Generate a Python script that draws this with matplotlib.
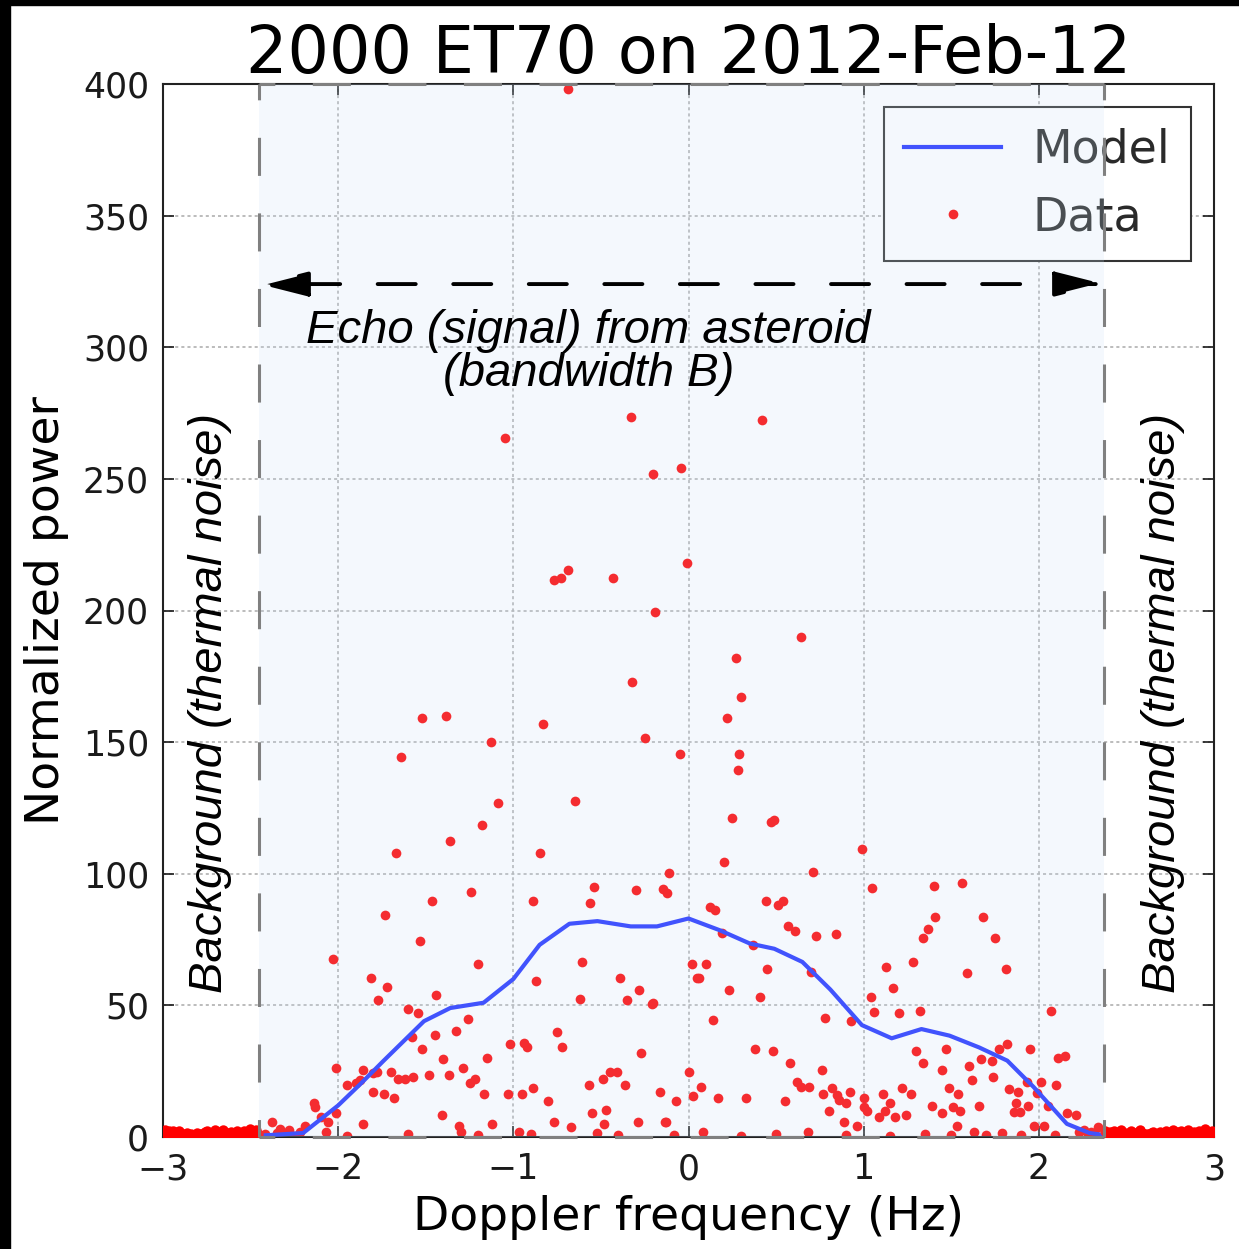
import numpy as np
import matplotlib
matplotlib.use('Agg')
import matplotlib.pyplot as plt
from matplotlib.patches import Rectangle

plt.rcParams['lines.scale_dashes'] = False

TITLE = '2000 ET70 on 2012-Feb-12'
X_LABEL = 'Doppler frequency (Hz)'
Y_LABEL = 'Normalized power'
X_TICKS = [-3, -2, -1, 0, 1, 2, 3]
Y_TICKS = [0, 50, 100, 150, 200, 250, 300, 350, 400]

ECHO_LEFT = -2.45     # edges of echo bandwidth (Hz)
ECHO_RIGHT = 2.37
ARROW_Y = 324

# model spectrum
MODEL_X = [-3.0, -2.45, -2.2, -2.0, -1.875, -1.74, -1.51, -1.36, -1.17, -1.0,
           -0.85, -0.68, -0.52, -0.33, -0.18, 0.0, 0.18, 0.35, 0.49, 0.65,
           0.81, 0.99, 1.16, 1.33, 1.49, 1.66, 1.82, 1.97, 2.16, 2.29, 2.4, 3.0]
MODEL_Y = [0, 0.5, 1.5, 12, 20, 29, 44, 49, 51, 60,
           73, 81, 82, 80, 80, 83, 78.5, 73.5, 71.5, 66.5,
           56, 42.5, 37.5, 41, 38.5, 34, 29, 19, 5, 1.5, 0.5, 0]

# measured power inside the echo band, negative frequencies
SIGNAL_NEG = [
    (-0.69, 398), (-0.33, 273.5), (-1.05, 265.5), (-0.20, 252), (-0.04, 254),
    (-0.69, 215.5), (-0.77, 211.5), (-0.73, 212.5), (-0.43, 212.5), (-0.01, 218),
    (-0.19, 199.5), (-0.32, 173), (-1.52, 159), (-1.385, 160), (-0.83, 157),
    (-0.25, 151.5), (-1.13, 150), (-0.05, 145.5), (-1.64, 144.5), (-0.65, 127.5),
    (-1.09, 127), (-1.18, 118.5), (-1.36, 112.5), (-1.67, 108), (-0.85, 108),
    (-0.11, 100.3), (-0.54, 95), (-0.30, 94), (-0.146, 94.2), (-0.12, 92.7),
    (-1.465, 89.6), (-1.24, 93), (-0.89, 89.6), (-0.56, 89), (-1.73, 84.3),
    (-1.53, 74.5), (-2.03, 67.6), (-1.20, 65.7), (-0.87, 59.3), (-0.61, 66.5),
    (-0.62, 52.4), (-0.39, 60.4), (-0.35, 52), (-0.28, 55.8), (-0.21, 50.5),
    (-1.81, 60.4), (-1.77, 52), (-1.72, 57), (-1.60, 48.6), (-1.545, 47),
    (-1.44, 54), (-1.58, 38), (-1.52, 33.4), (-1.45, 38.7), (-1.33, 40.3),
    (-1.26, 44.8), (-1.40, 29.6), (-1.29, 26.2), (-1.15, 30), (-1.02, 35.3),
    (-0.94, 35.7), (-0.92, 34.2), (-0.75, 39.9), (-0.72, 34.2), (-0.27, 31.9),
    (-2.01, 26.2), (-1.95, 19.8), (-1.90, 20.5), (-1.875, 21.7), (-1.86, 25.5),
    (-1.80, 24.3), (-1.78, 24.7), (-1.70, 24.7), (-1.66, 22), (-1.62, 22),
    (-1.57, 22.8), (-1.48, 23.6), (-1.37, 23.6), (-1.25, 20.5), (-1.22, 22),
    (-1.80, 17), (-1.74, 16.3), (-1.68, 14.8), (-1.17, 16.3), (-1.03, 16.3),
    (-0.95, 16.3), (-0.89, 18.6), (-0.80, 13.7), (-0.57, 19.8), (-0.49, 22),
    (-0.45, 24.7), (-0.41, 24.7), (-0.36, 19.8), (-0.16, 17), (-0.07, 13.7),
    (-2.01, 9.1), (-2.14, 12.9), (-2.13, 11.4), (-2.10, 7.6), (-2.06, 5.7),
    (-2.07, 1.9), (-2.19, 4.2), (-2.38, 5.7), (-1.86, 4.9), (-1.41, 8.4),
    (-1.31, 4.2), (-1.30, 1.9), (-1.12, 4.9), (-0.97, 1.9), (-0.77, 5.7),
    (-0.67, 3.8), (-0.55, 9.1), (-0.47, 10.3), (-0.52, 1.5), (-0.48, 4.9),
    (-0.29, 5.7), (-0.13, 5.7), (-0.08, 0.8), (-0.135, 5.7), (-0.20, 51),
    (-2.30, 1.0), (-2.25, 0.5), (-2.35, 1.5), (-2.28, 2.5), (-2.42, 1.0),
    (-2.22, 2.0), (-2.33, 3.0), (-1.95, 0.5), (-1.60, 1.0), (-1.20, 0.8),
    (-0.90, 1.0), (-0.40, 0.8),
]

# measured power inside the echo band, positive frequencies
SIGNAL_POS = [
    (0.42, 272.5), (0.64, 190), (0.27, 182), (0.30, 167), (0.22, 159),
    (0.29, 145.5), (0.28, 139.5), (0.25, 121), (0.49, 120.5), (0.47, 119.5),
    (0.99, 109.5), (0.20, 104.5), (0.71, 100.5), (0.51, 88), (0.54, 89.6),
    (0.44, 89.6), (1.05, 94.6), (1.40, 95.3), (1.56, 96.5), (0.12, 87.4),
    (0.15, 86.2), (0.02, 65.7), (0.05, 60.4), (0.10, 65.7), (0.0, 24.7),
    (0.025, 15.6), (0.08, 1.9), (0.19, 77.5), (0.37, 73), (0.57, 80),
    (0.61, 78.3), (0.73, 76.4), (0.84, 77), (0.06, 60.4), (0.23, 55.8),
    (0.41, 53.2), (0.45, 63.8), (0.70, 62.7), (0.14, 44.4), (0.78, 45.2),
    (0.93, 44.1), (1.04, 53.2), (1.06, 47.5), (1.20, 47.1), (1.32, 47.9),
    (1.13, 64.6), (1.17, 56.6), (1.28, 66.5), (1.34, 75.6), (1.37, 79),
    (1.41, 83.6), (1.68, 83.6), (1.75, 75.6), (1.81, 63.8), (1.59, 62.3),
    (2.07, 47.9), (0.38, 33.4), (0.48, 32.7), (0.58, 28.1), (0.76, 25.5),
    (0.62, 20.9), (0.64, 19), (0.69, 19), (0.77, 16.3), (0.82, 18.6),
    (0.85, 16), (0.86, 14), (0.90, 12.9), (0.92, 17), (1.0, 14.8),
    (1.0, 11.4), (1.02, 9.9), (0.80, 9.9), (0.89, 5.7), (0.96, 4.2),
    (1.11, 16.3), (1.12, 9.9), (1.09, 7.6), (1.15, 12.9), (1.18, 7.6),
    (1.24, 8.4), (1.22, 18.6), (1.27, 16.3), (1.30, 32.7), (1.34, 28.1),
    (1.39, 11.8), (1.45, 9.1), (1.45, 25.5), (1.47, 33.4), (1.49, 18.6),
    (1.54, 16.3), (1.51, 11.4), (1.55, 9.9), (1.53, 4.2), (1.60, 27),
    (1.62, 21.7), (1.66, 11.8), (1.63, 1.9), (1.67, 29.6), (1.73, 28.9),
    (1.74, 22.8), (1.77, 33.4), (1.82, 35.3), (1.83, 18.2), (1.88, 17),
    (1.86, 9.5), (1.89, 9.5), (1.87, 12.9), (1.94, 11.8), (1.95, 33.4),
    (1.93, 20.9), (1.99, 16.7), (2.01, 20.9), (1.97, 4.2), (2.03, 4.2),
    (2.05, 11.8), (2.10, 19.8), (2.11, 30), (2.15, 30.8), (2.16, 9.1),
    (2.21, 8.4), (1.79, 1.5), (1.70, 0.8), (2.09, 0.8), (2.23, 1.9),
    (2.34, 3.8), (0.07, 19), (0.17, 14.8), (0.33, 14.8), (0.55, 13.7),
    (0.68, 1.9), (0.30, 0.5), (0.50, 1.0), (0.90, 0.8), (1.15, 0.5),
    (1.35, 1.0), (1.50, 0.6), (1.90, 0.8), (2.28, 1.2), (2.32, 0.8),
    (2.26, 2.8), (2.30, 2.0),
]

# thermal noise outside the echo band
BG_LEFT_Y = [1.9, 2.6, 1.1, 2.2, 1.5, 2.4, 0.8, 1.7, 2.1, 1.3, 0.6, 1.0,
             1.6, 0.7, 1.2, 0.9, 0.5, 1.4, 0.8, 1.1, 0.6, 1.8, 2.3, 0.9,
             1.5, 0.7, 2.5, 1.2, 1.9, 0.8, 2.7, 1.4, 1.0, 1.6, 2.0, 1.3,
             0.9, 2.2, 1.7, 1.1, 2.4, 0.8, 1.5, 2.9, 1.2, 1.8, 2.6, 1.0]
BG_RIGHT_Y = [2.4, 1.3, 1.8, 0.9, 2.1, 1.5, 1.0, 2.6, 1.2, 1.7, 0.7, 1.4,
              2.2, 1.1, 0.8, 1.9, 2.8, 1.6, 1.0, 1.3, 0.6, 1.5, 2.0, 0.9,
              1.2, 1.8, 0.7, 1.4, 2.3, 1.1, 1.6, 2.5, 0.8, 1.9, 1.3, 2.2,
              1.0, 1.7, 2.7, 1.2, 0.9, 2.0, 1.4, 2.3, 1.1, 1.8, 2.9, 1.5,
              1.0, 2.1, 1.6]


def main():
    bg_left_x = np.linspace(-3.0, ECHO_LEFT - 0.01, len(BG_LEFT_Y))
    bg_right_x = np.linspace(ECHO_RIGHT + 0.01, 3.0, len(BG_RIGHT_Y))
    sig = np.array(SIGNAL_NEG + SIGNAL_POS)

    fig = plt.figure(figsize=(12.39, 12.49), dpi=100, facecolor='white')
    ax = fig.add_axes([163 / 1239, 1 - 1137 / 1249, 1051 / 1239, 1053 / 1249])

    ax.plot(sig[:, 0], sig[:, 1], 'o', ms=7, color='red', mew=0,
            label='Data', zorder=2)
    ax.plot(MODEL_X, MODEL_Y, color='#2030ff', lw=3.0, label='Model', zorder=3)
    # noise outside the echo sits over the (zero) model there
    ax.plot(np.concatenate([bg_left_x, bg_right_x]),
            np.concatenate([BG_LEFT_Y, BG_RIGHT_Y]),
            'o', ms=7.5, color='red', mew=0, zorder=4, clip_on=True)

    ax.set_xlim(-3, 3)
    ax.set_ylim(0, 400)
    ax.set_xticks(X_TICKS)
    ax.set_yticks(Y_TICKS)
    ax.grid(True, color='#b0b0b0', linestyle=(0, (2.2, 2.2)), lw=1.2)
    ax.set_axisbelow(True)
    ax.tick_params(direction='in', top=True, right=True, length=8, width=1.2,
                   labelsize=25, colors='#1a1a1a')
    ax.tick_params(axis='x', pad=11)
    ax.tick_params(axis='y', pad=10)
    for sp in ax.spines.values():
        sp.set_linewidth(1.5)
        sp.set_color('#222222')

    ax.set_title(TITLE, fontsize=47, pad=8)
    ax.set_xlabel(X_LABEL, fontsize=34, labelpad=6)
    ax.set_ylabel(Y_LABEL, fontsize=34, labelpad=10)

    handles, labels = ax.get_legend_handles_labels()
    leg = ax.legend(handles[::-1], labels[::-1], loc='upper right', fontsize=33,
                    numpoints=1, fancybox=False, framealpha=1, edgecolor='#333333',
                    borderaxespad=0.5, handlelength=2.1, handletextpad=0.7,
                    borderpad=0.45, labelspacing=0.5)
    leg.get_frame().set_linewidth(1.5)
    for t in leg.get_texts():
        t.set_color('#2a2a2a')
    leg.set_zorder(5)

    # echo band overlay, drawn over everything
    ax.add_patch(Rectangle((ECHO_LEFT, 0), ECHO_RIGHT - ECHO_LEFT, 400,
                           facecolor='#c8e0f5', alpha=0.2, edgecolor='none',
                           zorder=6, clip_on=False))
    dash = (16, (27.4, 27))
    for xe in (ECHO_LEFT, ECHO_RIGHT):
        ax.plot([xe, xe], [400, 0], color='#808080', lw=2.2, linestyle=dash,
                clip_on=False, zorder=7)
    for ye in (400, 0):
        ax.plot([ECHO_LEFT, ECHO_RIGHT], [ye, ye], color='#808080', lw=2.2,
                linestyle=dash, clip_on=False, zorder=7)

    ax.annotate('', xy=(ECHO_LEFT, ARROW_Y), xytext=(ECHO_RIGHT, ARROW_Y),
                arrowprops=dict(arrowstyle='<|-|>,head_length=1.5,head_width=0.38',
                                mutation_scale=20, color='black', lw=2.8,
                                linestyle=(0, (27.4, 27)), shrinkA=0, shrinkB=0),
                zorder=8)

    txt = dict(fontsize=34, style='italic', family=['Liberation Sans', 'DejaVu Sans'],
               color='black', zorder=8)
    ax.text(-0.57, 298, 'Echo (signal) from asteroid\n(bandwidth B)',
            ha='center', va='center', linespacing=0.95, **txt)
    ax.text(-2.73, 165, 'Background (thermal noise)', rotation=90,
            ha='center', va='center', **txt)
    ax.text(2.71, 165, 'Background (thermal noise)', rotation=90,
            ha='center', va='center', **txt)

    # black strips at the left and top edge of the picture
    fig.add_artist(Rectangle((0, 0), 10 / 1239, 1, transform=fig.transFigure,
                             color='black', zorder=10))
    fig.add_artist(Rectangle((0, 1 - 5 / 1249), 1, 5 / 1249, transform=fig.transFigure,
                             color='black', zorder=10))

    fig.savefig('out.png', dpi=100)


if __name__ == '__main__':
    main()
